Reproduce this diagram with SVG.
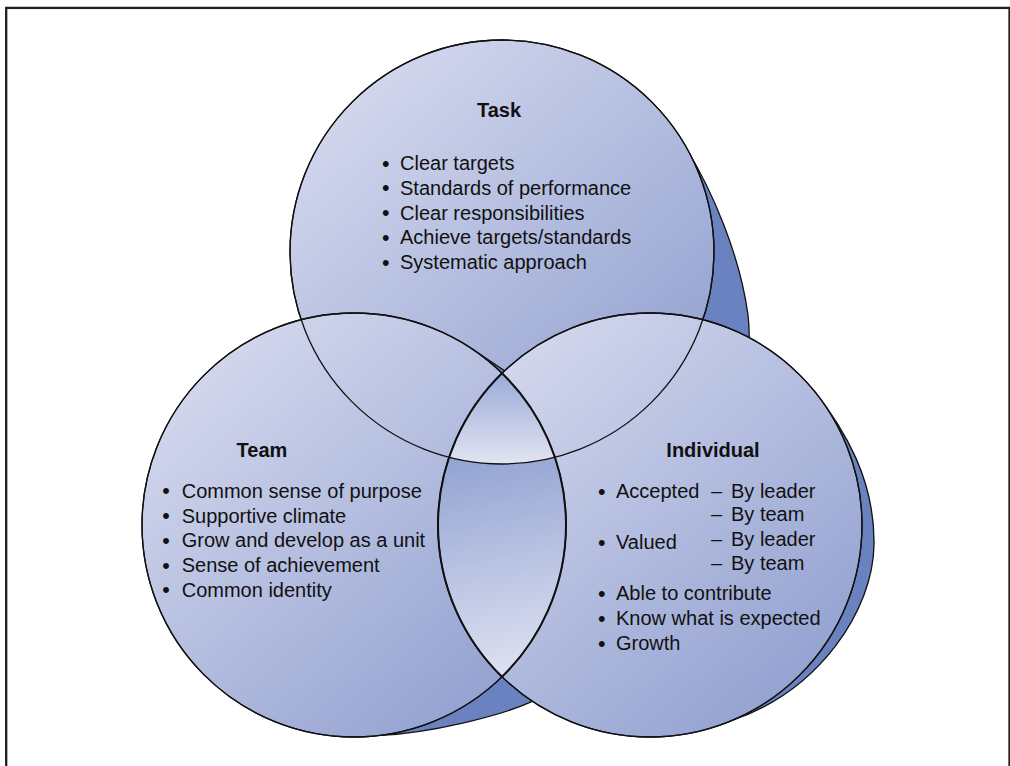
<svg xmlns="http://www.w3.org/2000/svg" width="1010" height="766" viewBox="0 0 1010 766">
<defs>
<linearGradient id="gc" x1="0.1" y1="0.05" x2="0.9" y2="0.95">
<stop offset="0" stop-color="#d7dbef"/>
<stop offset="1" stop-color="#8f9ecf"/>
</linearGradient>
<linearGradient id="glens" gradientUnits="userSpaceOnUse" x1="485" y1="462" x2="525" y2="676">
<stop offset="0" stop-color="#96a6d4"/>
<stop offset="1" stop-color="#dfe2f2"/>
</linearGradient>
<linearGradient id="gtri" gradientUnits="userSpaceOnUse" x1="502" y1="375" x2="502" y2="462">
<stop offset="0" stop-color="#9cabd7"/>
<stop offset="1" stop-color="#e0e3f2"/>
</linearGradient>
</defs>
<style>
.frame{fill:none;stroke:#231f20;stroke-width:2.3}
.shadow{fill:#6a82bf;stroke:#111;stroke-width:1.3;stroke-linejoin:round}
.circ{fill:url(#gc);stroke:#111;stroke-width:1.3}
.line{fill:none;stroke:#111;stroke-width:1.3}
.lensline{fill:none;stroke:#111;stroke-width:2}
text{font-family:"Liberation Sans",Arial,Helvetica,sans-serif;font-size:20px;fill:#111}
.title{font-weight:bold;text-anchor:middle}
.b{font-size:21.5px}
</style>
<rect class="frame" x="6.2" y="7.9" width="1003.3" height="800"/>
<g id="task">
<path class="shadow" d="M686 148 C712 190 740 255 748 315 C751 340 748 370 740 400 L600 400 L600 200 Z"/>
<circle class="circ" cx="502" cy="252" r="212"/>
<text class="title" x="499" y="117">Task</text>
<text><tspan class="b" x="382" y="170.5">• </tspan><tspan x="400" y="170">Clear targets</tspan></text>
<text><tspan class="b" x="382" y="195.25">• </tspan><tspan x="400" y="194.75">Standards of performance</tspan></text>
<text><tspan class="b" x="382" y="220">• </tspan><tspan x="400" y="219.5">Clear responsibilities</tspan></text>
<text><tspan class="b" x="382" y="244.75">• </tspan><tspan x="400" y="244.25">Achieve targets/standards</tspan></text>
<text><tspan class="b" x="382" y="269.5">• </tspan><tspan x="400" y="269">Systematic approach</tspan></text>
</g>
<g id="team">
<path class="shadow" d="M472 348.9 L506 371.7 C560 410 590 470 585 560 C580 640 560 685 531.7 701.7 C500 716 430 733 380 735.4 L354 600 Z"/>
<circle class="circ" cx="354" cy="525" r="212"/>
<text class="title" x="262" y="457">Team</text>
<text><tspan class="b" x="162.3" y="498.2">• </tspan><tspan x="181.7" y="497.7">Common sense of purpose</tspan></text>
<text><tspan class="b" x="162.3" y="523">• </tspan><tspan x="181.7" y="522.5">Supportive climate</tspan></text>
<text><tspan class="b" x="162.3" y="547.7">• </tspan><tspan x="181.7" y="547.2">Grow and develop as a unit</tspan></text>
<text><tspan class="b" x="162.3" y="572.5">• </tspan><tspan x="181.7" y="572">Sense of achievement</tspan></text>
<text><tspan class="b" x="162.3" y="597.2">• </tspan><tspan x="181.7" y="596.7">Common identity</tspan></text>
</g>
<g id="individual">
<path class="shadow" d="M813.5 390 C845 430 875 480 874 545 C873 610 820 690 733 720 L650 600 Z"/>
<circle class="circ" cx="650" cy="525" r="212"/>
<text class="title" x="713" y="457">Individual</text>
<text><tspan class="b" x="598" y="498.5">• </tspan><tspan x="616" y="498">Accepted</tspan></text>
<text><tspan x="711" y="498">– </tspan><tspan x="731" y="498">By leader</tspan></text>
<text><tspan x="711" y="521">– </tspan><tspan x="731" y="521">By team</tspan></text>
<text><tspan class="b" x="598" y="549.5">• </tspan><tspan x="616" y="549">Valued</tspan></text>
<text><tspan x="711" y="545.7">– </tspan><tspan x="731" y="545.7">By leader</tspan></text>
<text><tspan x="711" y="569.5">– </tspan><tspan x="731" y="569.5">By team</tspan></text>
<text><tspan class="b" x="598" y="600.5">• </tspan><tspan x="616" y="600">Able to contribute</tspan></text>
<text><tspan class="b" x="598" y="625.5">• </tspan><tspan x="616" y="625">Know what is expected</tspan></text>
<text><tspan class="b" x="598" y="650.5">• </tspan><tspan x="616" y="650">Growth</tspan></text>
</g>
<g id="overlaps">
<path fill="url(#glens)" d="M502 373.2 A212 212 0 0 0 502 676.8 A212 212 0 0 0 502 373.2 Z"/>
<path fill="url(#gtri)" d="M502 373.2 A212 212 0 0 0 449.1 457.3 A212 212 0 0 0 554.9 457.3 A212 212 0 0 0 502 373.2 Z"/>
</g>
<g id="outlines">
<circle class="line" cx="502" cy="252" r="212"/>
<circle class="line" cx="354" cy="525" r="212"/>
<circle class="line" cx="650" cy="525" r="212"/>
<path class="lensline" d="M502 373.2 A212 212 0 0 0 502 676.8 A212 212 0 0 0 502 373.2 Z"/>
</g>
</svg>
